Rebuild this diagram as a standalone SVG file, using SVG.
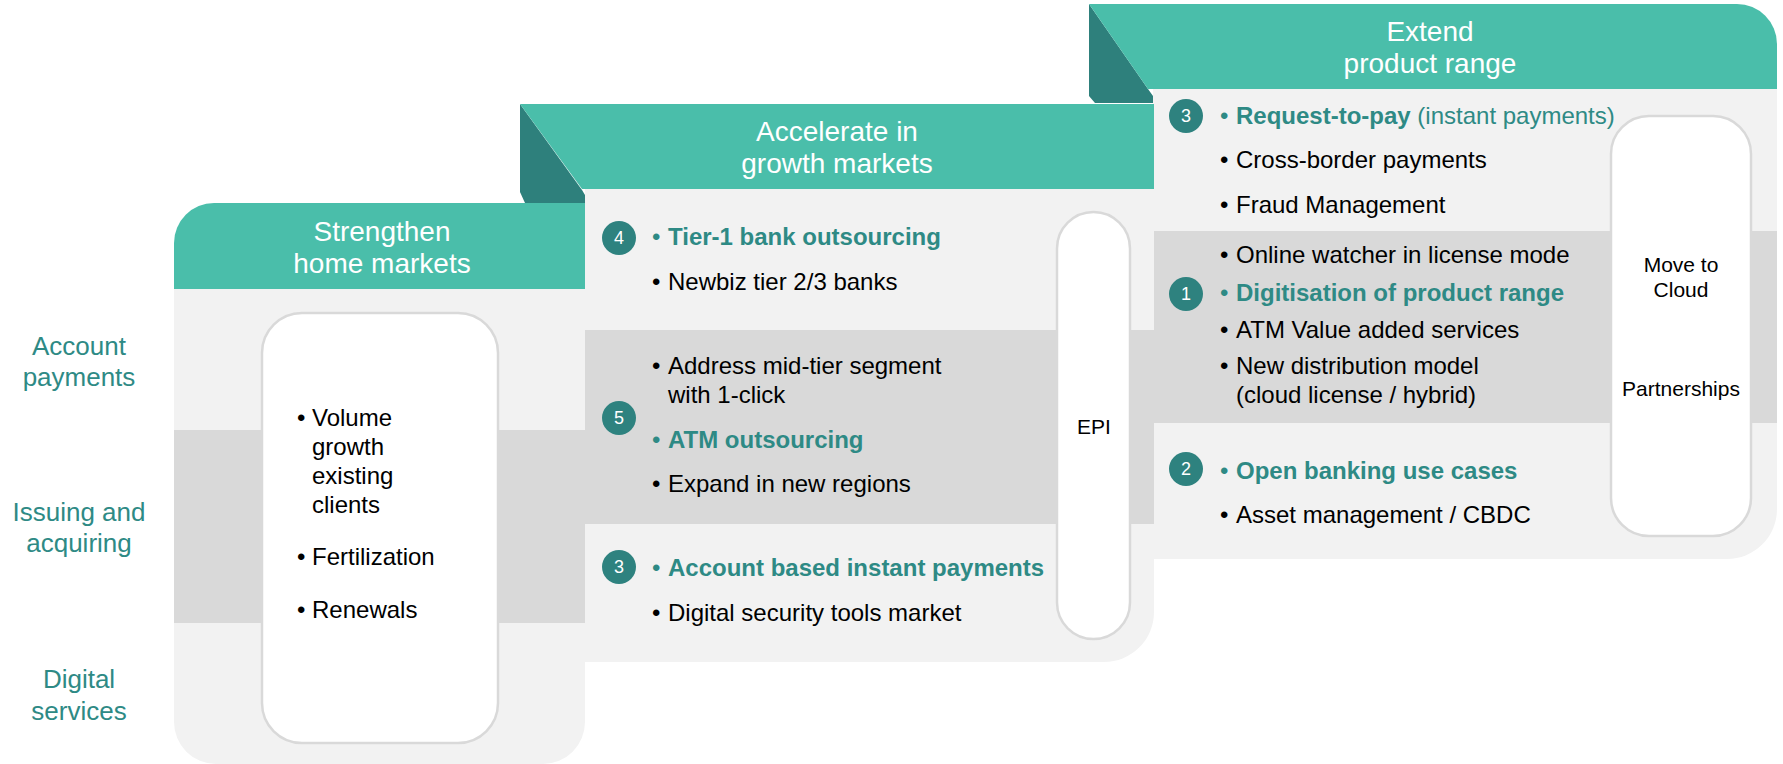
<svg xmlns="http://www.w3.org/2000/svg" width="1783" height="764" viewBox="0 0 1783 764">
<style>
.hdr{fill:#4ABEAA}
.fold{fill:#2E807C}
.lt{fill:#F2F2F2}
.dk{fill:#D9D9D9}
.pill{fill:#FFFFFF;stroke:#D9D9D9;stroke-width:2.5}
text{font-family:"Liberation Sans",Arial,sans-serif}
.ht{fill:#FFFFFF;font-size:28px;text-anchor:middle}
.row{fill:#2E8A85;font-size:26px;text-anchor:middle}
.b{fill:#000000;font-size:24px}
.t{fill:#2E8A85;font-size:24px}
.tb{fill:#2E8A85;font-size:24px;font-weight:bold}
.pt{fill:#000000;font-size:21px;text-anchor:middle}
.num{fill:#2E827F}
.nt{fill:#FFFFFF;font-size:18px;text-anchor:middle}
</style>
<rect width="1783" height="764" fill="#FFFFFF"/>

<g id="panel-extend">
  <path class="lt" d="M1153,89 H1777 V509 A50,50 0 0 1 1727,559 H1153 Z"/>
  <rect class="dk" x="1153" y="231" width="624" height="192"/>
  <path class="fold" d="M1089,4 L1148,89 L1153,96 V103 H1095 L1089,96 Z"/>
  <path class="hdr" d="M1089,4 H1737 A40,40 0 0 1 1777,44 V89 H1148 Z"/>
  <text class="ht" x="1430" y="41">Extend</text>
  <text class="ht" x="1430" y="73">product range</text>
  <rect class="pill" x="1611" y="116" width="140" height="420" rx="38"/>
  <text class="pt" x="1681" y="272">Move to</text>
  <text class="pt" x="1681" y="297">Cloud</text>
  <text class="pt" x="1681" y="396">Partnerships</text>
  <circle class="num" cx="1186" cy="116" r="17"/><text class="nt" x="1186" y="122">3</text>
  <text class="t" x="1220" y="124">•</text><text class="t" x="1236" y="124"><tspan font-weight="bold">Request-to-pay</tspan> (instant payments)</text>
  <text class="b" x="1220" y="168">•</text><text class="b" x="1236" y="168">Cross-border payments</text>
  <text class="b" x="1220" y="213">•</text><text class="b" x="1236" y="213">Fraud Management</text>
  <text class="b" x="1220" y="263">•</text><text class="b" x="1236" y="263">Online watcher in license mode</text>
  <circle class="num" cx="1186" cy="294" r="17"/><text class="nt" x="1186" y="300">1</text>
  <text class="t" x="1220" y="301">•</text><text class="tb" x="1236" y="301">Digitisation of product range</text>
  <text class="b" x="1220" y="338">•</text><text class="b" x="1236" y="338">ATM Value added services</text>
  <text class="b" x="1220" y="374">•</text><text class="b" x="1236" y="374">New distribution model</text>
  <text class="b" x="1236" y="403">(cloud license / hybrid)</text>
  <circle class="num" cx="1186" cy="469" r="17"/><text class="nt" x="1186" y="475">2</text>
  <text class="t" x="1220" y="479">•</text><text class="tb" x="1236" y="479">Open banking use cases</text>
  <text class="b" x="1220" y="523">•</text><text class="b" x="1236" y="523">Asset management / CBDC</text>
</g>

<g id="panel-accelerate">
  <path class="lt" d="M585,189 H1154 V612 A50,50 0 0 1 1104,662 H585 Z"/>
  <rect class="dk" x="585" y="330" width="569" height="194"/>
  <path class="fold" d="M520,104 L582,190 L585,195 V203 H525 L520,192 Z"/>
  <path class="hdr" d="M520,104 H1154 V189 H582 Z"/>
  <text class="ht" x="837" y="141">Accelerate in</text>
  <text class="ht" x="837" y="173">growth markets</text>
  <rect class="pill" x="1057" y="212" width="73" height="427" rx="36.5"/>
  <text class="pt" x="1094" y="434">EPI</text>
  <circle class="num" cx="619" cy="238" r="17"/><text class="nt" x="619" y="244">4</text>
  <text class="t" x="652" y="245">•</text><text class="tb" x="668" y="245">Tier-1 bank outsourcing</text>
  <text class="b" x="652" y="290">•</text><text class="b" x="668" y="290">Newbiz tier 2/3 banks</text>
  <text class="b" x="652" y="374">•</text><text class="b" x="668" y="374">Address mid-tier segment</text>
  <text class="b" x="668" y="403">with 1-click</text>
  <circle class="num" cx="619" cy="418" r="17"/><text class="nt" x="619" y="424">5</text>
  <text class="t" x="652" y="448">•</text><text class="tb" x="668" y="448">ATM outsourcing</text>
  <text class="b" x="652" y="492">•</text><text class="b" x="668" y="492">Expand in new regions</text>
  <circle class="num" cx="619" cy="567" r="17"/><text class="nt" x="619" y="573">3</text>
  <text class="t" x="652" y="576">•</text><text class="tb" x="668" y="576">Account based instant payments</text>
  <text class="b" x="652" y="621">•</text><text class="b" x="668" y="621">Digital security tools market</text>
</g>

<g id="panel-strengthen">
  <path class="lt" d="M174,289 H585 V722 A42,42 0 0 1 543,764 H216 A42,42 0 0 1 174,722 Z"/>
  <rect class="dk" x="174" y="430" width="411" height="193"/>
  <path class="hdr" d="M174,289 V243 A40,40 0 0 1 214,203 H585 V289 Z"/>
  <text class="ht" x="382" y="241">Strengthen</text>
  <text class="ht" x="382" y="273">home markets</text>
  <rect class="pill" x="262" y="313" width="236" height="430" rx="40"/>
  <text class="b" x="297" y="426">•</text><text class="b" x="312" y="426">Volume</text>
  <text class="b" x="312" y="455">growth</text>
  <text class="b" x="312" y="484">existing</text>
  <text class="b" x="312" y="513">clients</text>
  <text class="b" x="297" y="565">•</text><text class="b" x="312" y="565">Fertilization</text>
  <text class="b" x="297" y="618">•</text><text class="b" x="312" y="618">Renewals</text>
</g>

<g id="row-labels">
  <text class="row" x="79" y="355">Account</text>
  <text class="row" x="79" y="386">payments</text>
  <text class="row" x="79" y="521">Issuing and</text>
  <text class="row" x="79" y="552">acquiring</text>
  <text class="row" x="79" y="688">Digital</text>
  <text class="row" x="79" y="720">services</text>
</g>

<g id="connectors"/>
</svg>
